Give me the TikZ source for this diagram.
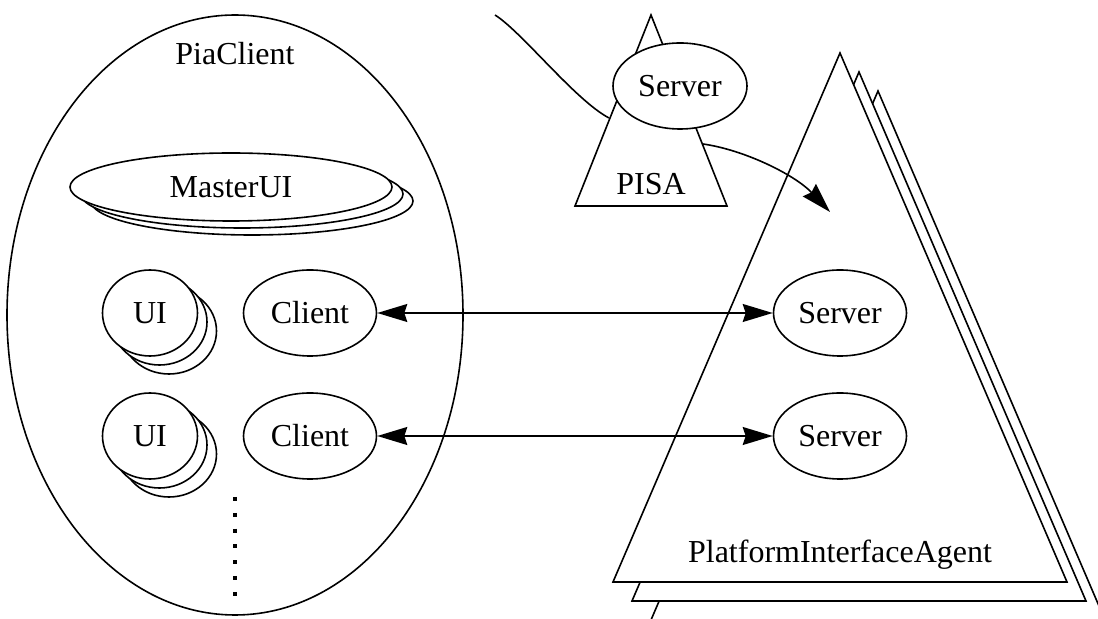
\documentclass[tikz,border=0pt]{standalone}
\usepackage{fontspec}
\setmainfont{Liberation Serif}
\usetikzlibrary{shapes.geometric,arrows.meta}
\begin{document}
\begin{tikzpicture}[x=0.5pt,y=-0.5pt,
  line width=0.8pt,
  font=\fontsize{16}{19}\selectfont,
  >={Stealth[length=15pt,width=9pt,inset=1.5pt]},
  oval/.style={draw, ellipse, fill=white, inner sep=0pt},
  ghost/.style={oval, minimum width=#1},
  lbl/.style={inner sep=0pt, anchor=base},
  tri/.style={draw, fill=white, line join=miter},
  dots/.style={line width=1.6pt, dash pattern=on 2pt off 5.9pt}
]
\useasboundingbox (0,0) rectangle (1098,619);

% client process
\node[oval, fill=none, minimum width=228pt, minimum height=300pt] (piaclient) at (235,315) {};
\node[lbl] (piaclientlbl) at (235,65) {PiaClient};

% stacked platform interface agents
\foreach \d in {38,19}
  \draw[tri] (840+\d,53+\d) -- (1067+\d,582+\d) -- (613+\d,582+\d) -- cycle;
\coordinate (piaapex) at (840,53);
\coordinate (piaright) at (1067,582);
\coordinate (pialeft) at (613,582);
\draw[tri] (piaapex) -- (piaright) -- (pialeft) -- cycle;
\node[lbl] (pialbl) at (840,563) {PlatformInterfaceAgent};

% PISA
\coordinate (pisaapex) at (651,15);
\coordinate (pisaright) at (727,206);
\coordinate (pisaleft) at (575,206);
\draw[tri] (pisaapex) -- (pisaright) -- (pisaleft) -- cycle;
\node[oval, minimum width=67pt, minimum height=43pt] (pisaserver) at (680,86) {Server};
\node[lbl] (pisalbl) at (651,195) {PISA};

% incoming line and hand-over arrow
\coordinate (feed) at (495,15);
\coordinate (pisain) at (609,118);
\draw (feed) .. controls (522,32) and (575,100) .. (pisain);
\coordinate (pisaout) at (703,144);
\coordinate (piain) at (830,212);
\draw[->] (pisaout) .. controls (745,150) and (795,175) .. (piain);

% master UI stack
\node[ghost=161pt, minimum height=34pt] (master3) at (252,201) {};
\node[ghost=161pt, minimum height=34pt] (master2) at (242,194) {};
\node[ghost=161pt, minimum height=34pt] (master1) at (231,187) {MasterUI};

% UI stacks
\foreach \y/\n in {313/a,436/b}{
  \node[ghost=47.5pt, minimum height=43pt] (ui\n3) at (169,\y+18) {};
  \node[ghost=47.5pt, minimum height=43pt] (ui\n2) at (159.5,\y+9) {};
  \node[ghost=47.5pt, minimum height=43pt] (ui\n1) at (150,\y) {UI};
}

% clients and servers
\node[oval, minimum width=66.5pt, minimum height=43pt] (client1) at (310,313) {Client};
\node[oval, minimum width=66.5pt, minimum height=43pt] (client2) at (310,436) {Client};
\node[oval, minimum width=66.5pt, minimum height=43pt] (server1) at (840,313) {Server};
\node[oval, minimum width=66.5pt, minimum height=43pt] (server2) at (840,436) {Server};

\draw[<->] (client1) -- (server1);
\draw[<->] (client2) -- (server2);

% more clients
\coordinate (moretop) at (235,497);
\coordinate (morebot) at (235,596);
\draw[dots] (moretop) -- (morebot);
\end{tikzpicture}
\end{document}
